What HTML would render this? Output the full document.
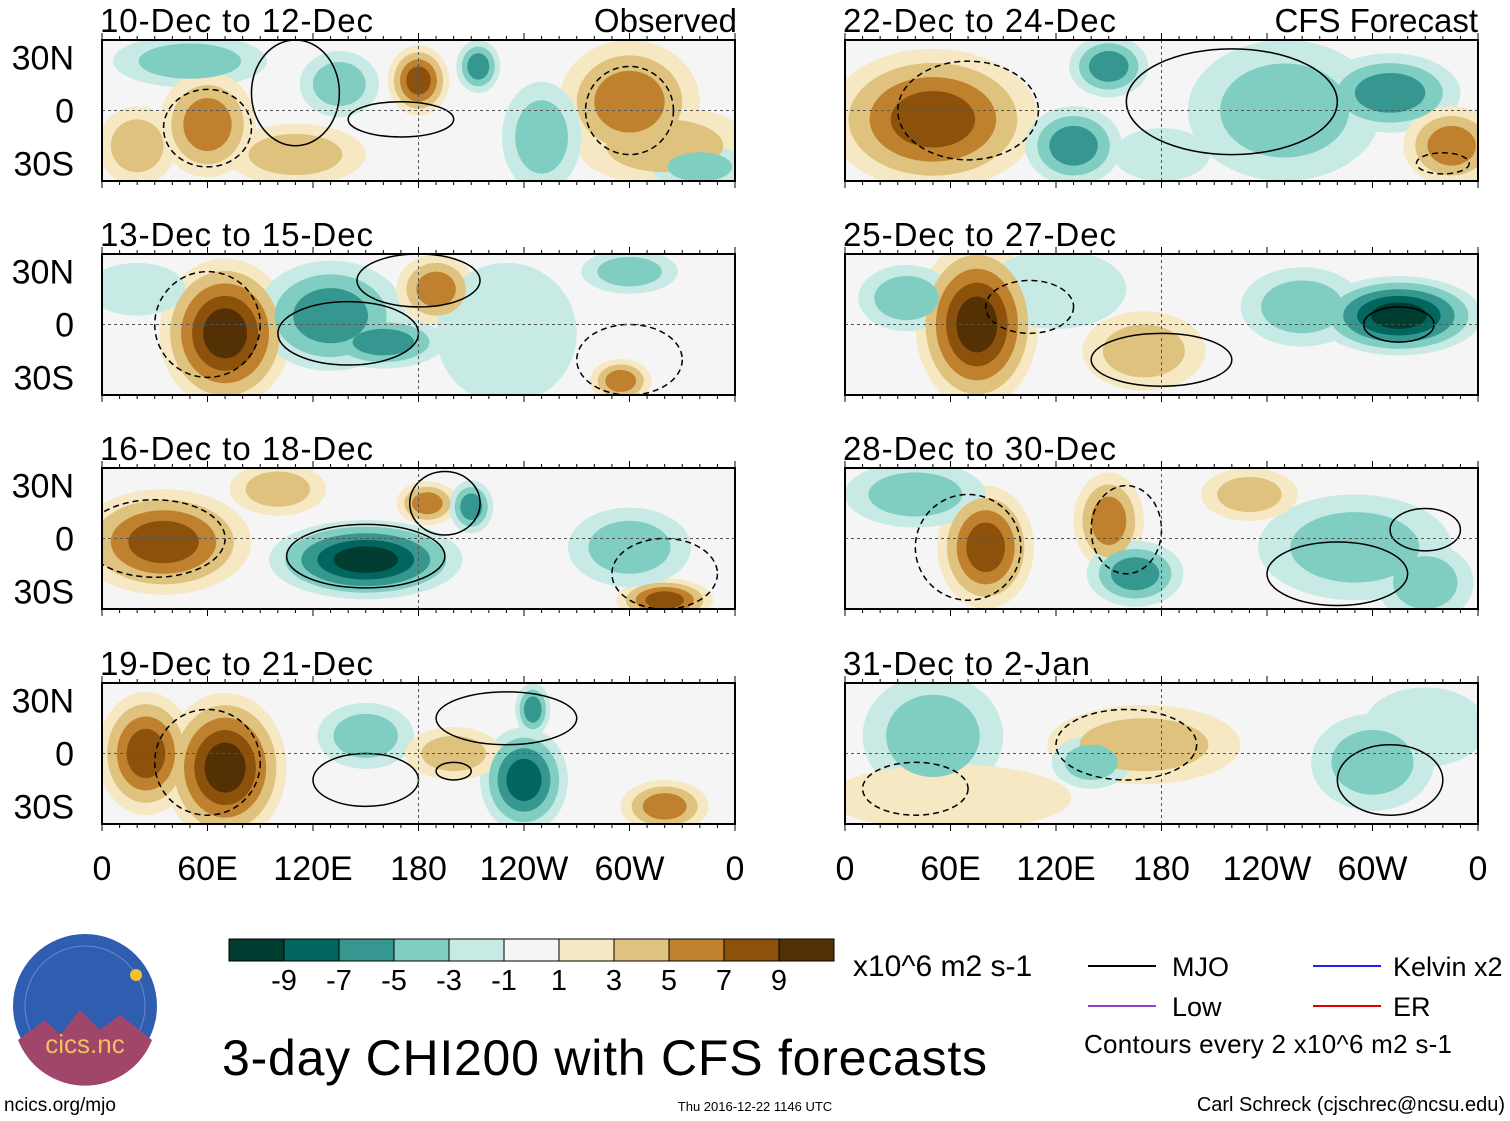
<!DOCTYPE html>
<html><head><meta charset="utf-8"><style>
body{margin:0;background:#fff;width:1510px;height:1121px;overflow:hidden;font-family:"Liberation Sans",sans-serif}
svg{position:absolute;left:0;top:0}
</style></head><body>
<svg id="fig" width="1510" height="1121" xmlns="http://www.w3.org/2000/svg" font-family="Liberation Sans, sans-serif"></svg>
<script>
// ---- data ----
const levels=[-9,-7,-5,-3,-1,1,3,5,7,9];
const levelColors=["#003c30","#01665e","#35978f","#80cdc1","#c7eae5","#f5f5f5","#f6e8c3","#dfc27d","#bf812d","#8c510a","#543005"];
const panelTitles=["10-Dec to 12-Dec","13-Dec to 15-Dec","16-Dec to 18-Dec","19-Dec to 21-Dec","22-Dec to 24-Dec","25-Dec to 27-Dec","28-Dec to 30-Dec","31-Dec to 2-Jan"];
const xTickLabels=["0","60E","120E","180","120W","60W","0"];
const xTickLons=[0,60,120,180,240,300,360];
const yTickLabels=["30N","0","30S"];
const yTickLats=[30,0,-30];
// blobs: [lon, lat, value, rxDeg, ryDeg]
const blobs0=[[50,28,-3,35,12],[60,-8,5,22,24],[180,17,7,14,16],[214,25,-5,10,12],[300,5,5,32,28],[320,-20,3,40,18],[250,-15,-3,18,25],[135,15,-3,18,15],[340,-32,-3,22,10],[110,-25,3,32,14],[20,-20,3,18,18]];
const blobs1=[[70,-5,9,30,34],[130,5,-5,34,25],[160,-10,-5,28,12],[190,20,5,18,16],[230,-5,-1,32,32],[295,-32,5,14,10],[300,30,-3,22,10],[20,20,-1,22,12]];
const blobs2=[[35,-2,7,40,24],[150,-12,-9,44,18],[185,20,5,14,10],[210,18,-5,10,12],[320,-35,7,22,10],[300,-5,-3,28,18],[100,28,3,22,12]];
const blobs3=[[25,0,7,22,28],[70,-8,9,28,34],[240,-15,-7,20,24],[150,10,-3,22,15],[245,25,-5,8,12],[320,-30,5,20,12],[200,0,3,22,12]];
const blobs4=[[50,-5,7,48,32],[130,-20,-5,22,18],[150,25,-5,18,14],[250,0,-3,44,32],[310,10,-5,32,18],[345,-20,5,22,18],[180,-25,-1,22,12]];
const blobs5=[[75,0,9,28,38],[315,5,-9,38,18],[170,-15,3,28,18],[260,10,-3,28,18],[35,15,-3,22,15],[120,20,-1,32,18]];
const blobs6=[[80,-5,7,22,28],[40,25,-3,32,15],[150,10,5,16,22],[165,-20,-5,22,15],[290,-5,-3,44,24],[330,-25,-3,22,18],[230,25,3,22,12]];
const blobs7=[[170,5,3,44,18],[140,-5,-3,18,12],[50,10,-3,32,28],[300,-5,-3,28,22],[60,-25,1,55,15],[330,15,-1,28,18]];
const panelBlobs=[blobs0,blobs1,blobs2,blobs3,blobs4,blobs5,blobs6,blobs7];
// contours: [lon, lat, rxDeg, ryDeg, dashed(1/0)]
const contours=[
 [[110,10,25,30,0],[170,-5,30,10,0],[60,-10,25,22,1],[300,0,25,25,1]],
 [[140,-5,40,18,0],[180,25,35,15,0],[60,0,30,30,1],[300,-20,30,20,1]],
 [[150,-10,45,18,0],[195,20,20,18,0],[30,0,40,22,1],[320,-20,30,20,1]],
 [[150,-15,30,15,0],[200,-10,10,5,0],[230,20,40,15,0],[60,-5,30,30,1]],
 [[220,5,60,30,0],[70,0,40,28,1],[340,-30,15,6,1]],
 [[180,-20,40,15,0],[315,0,20,10,0],[105,10,25,15,1]],
 [[280,-20,40,18,0],[330,5,20,12,0],[70,-5,30,30,1],[160,5,20,25,1]],
 [[310,-15,30,20,0],[160,5,40,20,1],[40,-20,30,15,1]]];

// ---- layout ----
const NS="http://www.w3.org/2000/svg";
const svg=document.getElementById('fig');
function el(tag,attrs,parent){const e=document.createElementNS(NS,tag);for(const k in attrs)e.setAttribute(k,attrs[k]);(parent||svg).appendChild(e);return e;}
const colX=[102,845],rowY=[40,254,468,683],PW=633,PH=141;
function colorFor(v){let i=0;while(i<levels.length&&v>levels[i])i++;return levelColors[i];}
const defs=el('defs',{});
for(let p=0;p<8;p++){
 const c=p<4?0:1,r=p%4,x0=colX[c],y0=rowY[r];
 const xs=lon=>x0+lon/360*PW, ys=lat=>y0+PH/2-lat/80*PH;
 const g=el('g',{});
 
 
 const cp=el('clipPath',{id:'cp'+p},defs);el('rect',{x:x0,y:y0,width:PW,height:PH},cp);
 el('rect',{x:x0,y:y0,width:PW,height:PH,fill:'#f5f5f5'},g);
 const inner=el('g',{'clip-path':'url(#cp'+p+')'},g);
 const blobs=panelBlobs[p];
 for(let lv=1;lv<=9;lv+=2){
  blobs.forEach(b=>{
   const v=b[2],a=Math.abs(v);if(lv>a)return;
   const f=1.25*(1-(lv-1)/(a+3));
   const e=el('ellipse',{cx:xs(b[0]),cy:ys(b[1]),rx:b[3]/360*PW*f,ry:b[4]/80*PH*f,fill:colorFor(Math.sign(v)*(lv+0.5))},inner);
   
   
  });
 }
 contours[p].forEach(k=>{
  const e=el('ellipse',{cx:xs(k[0]),cy:ys(k[1]),rx:k[2]/360*PW,ry:k[3]/80*PH,fill:'none',stroke:'#000','stroke-width':1.5,'stroke-dasharray':k[4]?'6,4':'none'},inner);
  
  
 });
 el('line',{x1:x0,x2:x0+PW,y1:ys(0),y2:ys(0),stroke:'#555','stroke-dasharray':'3,3','stroke-width':1},inner);
 el('line',{x1:xs(180),x2:xs(180),y1:y0,y2:y0+PH,stroke:'#555','stroke-dasharray':'3,3','stroke-width':1},inner);
 el('rect',{x:x0,y:y0,width:PW,height:PH,fill:'none',stroke:'#000','stroke-width':2},g);
 for(let l=0;l<=360;l+=10){const t=l%60==0?7:4;el('line',{x1:xs(l),x2:xs(l),y1:y0,y2:y0-t,stroke:'#000'},g);el('line',{x1:xs(l),x2:xs(l),y1:y0+PH,y2:y0+PH+t,stroke:'#000'},g);}
 const t=el('text',{x:x0-2,y:y0-8,'font-size':33,textLength:p==7?247:273},g);t.textContent=panelTitles[p];
 
 
 if(c==0){yTickLats.forEach((la,i)=>{const tt=el('text',{x:74,y:ys(la)+12,'font-size':34,'text-anchor':'end'},g);tt.textContent=yTickLabels[i];
  
  });}
 if(r==3){xTickLons.forEach((lo,i)=>{const tt=el('text',{x:xs(lo),y:880,'font-size':34,'text-anchor':'middle'},g);tt.textContent=xTickLabels[i];
  
  });}
}
const o1=el('text',{x:737,y:32,'font-size':33,'text-anchor':'end'});o1.textContent='Observed';

const o2=el('text',{x:1478,y:32,'font-size':33,'text-anchor':'end'});o2.textContent='CFS Forecast';

// colorbar
const cb=el('g',{});
const bw=55;
levelColors.forEach((col,i)=>{el('rect',{x:229+i*bw,y:939,width:bw,height:22,fill:col,stroke:'#000','stroke-width':1},cb);});
[-9,-7,-5,-3,-1,1,3,5,7,9].forEach((v,i)=>{const t=el('text',{x:284+i*bw,y:990,'font-size':29,'text-anchor':'middle'},cb);t.textContent=v;});
const u=el('text',{x:853,y:976,'font-size':30});u.textContent='x10^6 m2 s-1';

// legend
const lg=el('g',{});
[[1088,966,'#000','MJO',1172],[1088,1006,'#9040d0','Low',1172],[1313,966,'#2020ff','Kelvin x2',1393],[1313,1006,'#e00000','ER',1393]].forEach(d=>{
 el('line',{x1:d[0],x2:d[0]+68,y1:d[1],y2:d[1],stroke:d[2],'stroke-width':2},lg);
 const t=el('text',{x:d[4],y:d[1]+10,'font-size':27},lg);t.textContent=d[3];});
const ct=el('text',{x:1084,y:1053,'font-size':26,textLength:368});ct.textContent='Contours every 2 x10^6 m2 s-1';

const ti=el('text',{x:222,y:1075,'font-size':50,textLength:765});ti.textContent='3-day CHI200 with CFS forecasts';

// logo
const lo=el('g',{});
el('circle',{cx:85,cy:1006,r:72,fill:'#2f5db0'},lo);
el('circle',{cx:85,cy:1006,r:60,fill:'none',stroke:'#6a8ad0','stroke-width':1},lo);
el('path',{d:'M18,1040 L45,1020 L60,1035 L80,1010 L100,1030 L120,1015 L152,1040 A72,72 0 0 1 18,1040Z',fill:'#a0466a'},lo);
el('circle',{cx:136,cy:975,r:6,fill:'#f5c030'},lo);
const lt=el('text',{x:85,y:1053,'font-size':26,fill:'#f0c060','text-anchor':'middle'},lo);lt.textContent='cics.nc';
const f1=el('text',{x:4,y:1111,'font-size':19});f1.textContent='ncics.org/mjo';

const f2=el('text',{x:755,y:1111,'font-size':13,'text-anchor':'middle'});f2.textContent='Thu 2016-12-22 1146 UTC';

const f3=el('text',{x:1505,y:1111,'font-size':20,'text-anchor':'end'});f3.textContent='Carl Schreck (cjschrec@ncsu.edu)';

</script>
</body></html>
